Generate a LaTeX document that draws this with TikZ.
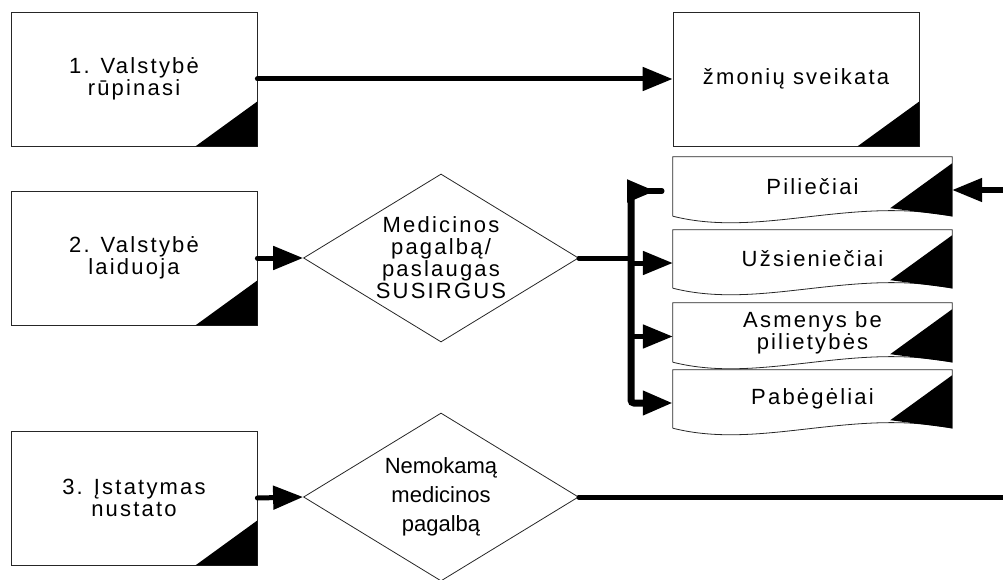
\documentclass[tikz,border=0pt]{standalone}
\usepackage{fontspec}
\setmainfont{Liberation Sans}
\newfontfamily\spacedfont[LetterSpace=10]{Liberation Sans}
\usetikzlibrary{shapes.geometric,arrows.meta}

\begin{document}
\begin{tikzpicture}
  [
    x = 1pt, y = -1pt,
    every node/.style = {font=\spacedfont\fontsize{22}{22}\selectfont},
    process/.style    = {shape=rectangle, draw=black!85, line width=0.8pt,
                         minimum width=246pt, minimum height=134pt,
                         inner sep=0pt, align=center},
    document/.style   = {shape=rectangle, minimum width=279pt,
                         inner sep=0pt, align=center},
    decision/.style   = {shape=diamond, draw=black!85, line width=0.8pt,
                         minimum width=275pt, minimum height=168pt,
                         aspect=1.64, inner sep=0pt, align=center},
    outline/.style    = {draw=black!85, line width=0.8pt},
    flow/.style       = {draw, line width=5pt, line cap=round},
    bus/.style        = {draw, line width=7pt, rounded corners=3pt},
    % filled heads as in the flowchart
    tip/.style        = {-{Triangle[length=30pt,width=23pt]}}
  ]
  \useasboundingbox (0,0) rectangle (1003,580);

  \node [process] (valst1) at (134,79)  {1. Valstybė\\rūpinasi};
  \node [process] (valst2) at (134,258) {2. Valstybė\\laiduoja};
  \node [process] (valst3) at (134,498) {3. Įstatymas\\nustato};
  \node [process] (sveik)  at (796,79)  {žmonių sveikata};

  \node [decision] (med)   at (441,258) {Medicinos\\pagalbą/\\paslaugas\\SUSIRGUS};
  \node [decision, font=\fontsize{22}{29}\selectfont]
                   (nemok) at (441,497) {Nemokamą\\medicinos\\pagalbą};

  \node [document, minimum height=59pt] (pil) at (812.5,186.5) {Piliečiai};
  \node [document, minimum height=58pt] (uzs) at (812.5,259)   {Užsieniečiai};
  \node [document, minimum height=59pt] (asm) at (812.5,332.5) {Asmenys be\\pilietybės};
  \node [document, minimum height=58pt] (pab) at (812.5,399)   {Pabėgėliai};

  % black corners
  \foreach \n in {valst1,valst2,valst3,sveik}
    \fill (\n.south east) -- ++(-62,0) -- ++(62,-45) -- cycle;
  \foreach \n in {pil,uzs,asm,pab}
  {
    \draw [outline] (\n.south west) -- (\n.north west) -- (\n.north east)
      -- (\n.south east) .. controls +(-102,-20) and +(87,22) .. (\n.south west);
    \fill (\n.south east) -- ++(0,-53) -- ++(-62,45) -- cycle;
  }

  \coordinate (bustop) at (631,191);
  \coordinate (flag)   at (662,191);
  \coordinate (rin)    at (1003,190);
  \coordinate (rout)   at (1003,497);

  \draw [flow, tip] (valst1.east) -- (sveik.west);
  \draw [flow, tip] (valst2.east) -- (med.west);
  \draw [flow, tip] (valst3.east) -- (nemok.west);
  \draw [flow] (med.east) -- (med.east -| bustop);
  \draw [bus, tip] (bustop) -- ([yshift=-4pt]pab.west -| bustop)
    -- ([yshift=-4pt]pab.west);
  \draw [flow, tip] ([yshift=-4pt]uzs.west -| bustop) -- ([yshift=-4pt]uzs.west);
  \draw [flow, tip] ([yshift=-4pt]asm.west -| bustop) -- ([yshift=-4pt]asm.west);
  \draw [flow, {Triangle[reversed,length=28pt,width=22pt]}-]
    ([xshift=-4pt]bustop) -- (flag);
  \draw [flow, tip] (rin) -- (rin -| pil.east);
  \draw [flow] (nemok.east) -- (nemok.east -| rout);
\end{tikzpicture}
\end{document}
